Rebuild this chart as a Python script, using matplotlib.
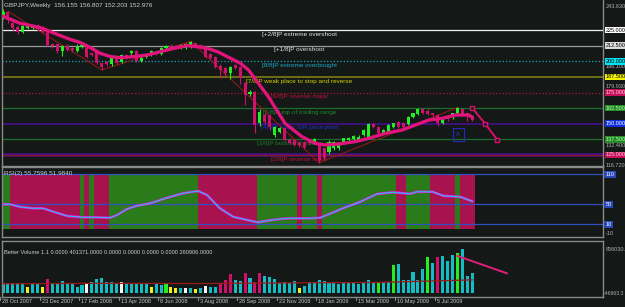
import numpy as np
import matplotlib.pyplot as plt
import matplotlib.transforms as mtransforms
from matplotlib.patches import Rectangle

plt.rcParams['font.family'] = ['Liberation Sans', 'DejaVu Sans']

# weekly GBPJPY candles, 28 Oct 2007 .. end Aug 2009
opens = [234.3, 239.7, 230.3, 227.7, 223.1, 226.3, 227.0, 228.5, 227.7, 225.0,
         213.8, 213.5, 208.2, 212.5, 210.9, 208.2, 211.4, 213.0, 206.3, 207.7,
         198.3, 199.1, 197.5, 202.3, 199.1, 205.0, 206.3, 208.2, 200.2, 203.7,
         205.0, 207.7, 205.5, 210.3, 212.5, 212.2, 210.9, 210.9, 211.7, 214.3,
         213.0, 210.3, 205.5, 203.7, 196.5, 194.3, 190.3, 197.0, 195.7, 182.3,
         173.5, 175.7, 150.3, 157.0, 157.0, 141.0, 143.7, 146.3, 137.0, 137.0,
         134.9, 135.7, 137.0, 135.7, 133.0, 130.3, 127.7, 130.3, 130.3, 134.3,
         137.0, 137.5, 137.0, 141.0, 139.7, 149.8, 147.7, 142.3, 143.7, 147.7,
         151.1, 150.9, 149.8, 155.1, 157.5, 161.5, 160.5, 158.3, 157.0, 150.3,
         156.2, 155.1, 158.3, 161.5, 158.3, 156.155]
closes = [239.7, 233.0, 226.3, 223.7, 228.5, 228.5, 228.2, 225.8, 223.7, 213.0,
          211.9, 208.2, 212.5, 209.0, 209.0, 211.1, 213.0, 203.7, 205.0, 198.3,
          195.7, 197.5, 202.9, 198.3, 205.0, 202.9, 208.2, 200.2, 202.9, 205.5,
          208.2, 205.5, 210.9, 212.5, 210.9, 210.3, 213.0, 213.5, 215.1, 211.7,
          210.3, 203.7, 202.3, 195.7, 193.0, 190.3, 195.7, 194.3, 186.3, 173.0,
          175.5, 149.0, 159.7, 151.7, 147.7, 147.7, 146.3, 137.0, 134.9, 133.0,
          133.0, 131.1, 134.9, 137.5, 121.0, 122.3, 135.7, 135.7, 133.0, 138.3,
          138.3, 140.2, 139.7, 145.0, 149.8, 147.7, 142.9, 145.0, 149.0, 150.3,
          147.7, 147.7, 155.1, 158.3, 161.5, 158.3, 157.8, 157.0, 150.3, 154.3,
          153.5, 158.3, 162.3, 157.0, 156.2, 152.976]
highs = [241.5, 240.5, 231.5, 229.0, 229.5, 229.5, 229.0, 229.5, 228.5, 225.5,
         214.5, 214.0, 213.0, 213.5, 211.5, 214.0, 214.5, 214.0, 207.0, 208.5,
         199.0, 200.0, 204.5, 203.0, 206.0, 206.0, 209.0, 209.0, 203.5, 206.0,
         209.0, 208.5, 211.5, 213.0, 213.5, 213.0, 213.5, 214.5, 216.0, 215.0,
         213.5, 211.0, 206.5, 204.0, 197.5, 195.5, 196.5, 198.0, 196.5, 183.5,
         177.0, 176.5, 162.0, 158.5, 158.0, 148.5, 147.5, 147.0, 138.5, 138.0,
         136.0, 136.5, 138.0, 139.0, 134.0, 131.0, 137.0, 136.5, 134.0, 139.0,
         139.5, 141.0, 141.0, 146.0, 150.5, 150.5, 148.5, 146.0, 150.0, 151.0,
         152.0, 151.5, 156.0, 159.0, 163.0, 162.5, 161.5, 159.0, 158.0, 155.0,
         157.0, 159.0, 163.5, 162.0, 159.0, 156.807]
lows = [233.5, 231.0, 224.5, 222.0, 222.5, 225.5, 226.0, 225.0, 222.5, 212.0,
        210.5, 207.0, 204.5, 208.0, 207.5, 207.5, 210.5, 203.0, 204.0, 197.5,
        193.0, 196.5, 196.5, 197.5, 198.5, 202.0, 205.0, 199.5, 199.5, 203.0,
        204.5, 205.0, 205.0, 209.5, 210.0, 209.5, 210.0, 210.0, 211.0, 211.0,
        209.5, 203.0, 201.0, 195.0, 186.5, 189.0, 186.0, 193.5, 182.0, 165.0,
        172.0, 143.0, 148.0, 150.0, 145.0, 139.5, 142.5, 136.0, 133.5, 132.0,
        131.5, 129.5, 133.5, 134.5, 118.8, 121.0, 126.0, 129.0, 129.0, 133.5,
        136.0, 136.5, 136.0, 140.0, 139.0, 146.5, 142.0, 141.5, 143.0, 147.0,
        147.0, 146.5, 149.0, 154.5, 157.0, 157.5, 157.0, 155.5, 148.0, 149.5,
        152.5, 154.0, 157.5, 156.5, 152.0, 152.203]

# moving average (read at a few points)
ma_idx = [0, 3.5, 7.6, 9.6, 11.6, 13.6, 15.7, 17.7, 19.7, 21.8, 23.8, 26.5, 29.2,
          31.9, 34.6, 37.3, 39.3, 41.4, 43.4, 46.1, 48.1, 49.7, 53.7, 57.1, 60.5,
          63.2, 65.2, 67.9, 71.3, 74, 77.4, 80.8, 83.5, 86.2, 88.9, 91.6, 94.3, 95]
ma_val = [236.0, 230.3, 226.9, 223.7, 220.5, 217.5, 214.9, 210.9, 206.3, 203.7,
          202.9, 203.7, 205.0, 207.7, 210.3, 212.5, 211.7, 210.3, 207.7, 202.3,
          198.3, 193.0, 171.7, 150.3, 139.7, 134.3, 133.0, 133.8, 135.7, 138.3,
          142.3, 145.0, 149.0, 153.0, 154.3, 157.0, 157.0, 155.1]

# zigzag swing line
zz_idx = [1, 20, 38, 64, 92]
zz_val = [240, 193, 216, 118.8, 163]

# projection
proj_idx = [94.9, 97.6, 100.1]
proj_val = [163, 150, 137]

# Murrey math levels
mm_levels = [225, 212.5, 200, 187.5, 175, 162.5, 150, 137.5, 125]
mm_labels = ['[+2/8]P extreme overshoot', '[+1/8]P overshoot', '[8/8]P extreme overbought',
             '[7/8]P weak place to stop and reverse', '[6/8]P reverse major',
             '[5/8]P top of trading range', '[4/8]P major S/R pivot point',
             '[3/8]P bottom of trading range', '[2/8]P reverse major']
mm_colors = ['#f0f0f0', '#9a9a9a', '#18a8c0', '#7c7c12', '#c0103c', '#1c6e2c', '#44108c',
             '#1c6e2c', '#8c1c1c']
mm_text_colors = ['#e8e8e8', '#e0e0e0', '#18a8c8', '#d0d000', '#c0103c', '#1e8a2e', '#2030d8',
                  '#1e7a2a', '#c0103c']
mm_styles = ['-', '-', ':', '-', ':', '-', '-', '-', '-']
mm_box = ['#ffffff', '#dcdcdc', '#00e4f4', '#f4f400', '#c8105a', '#2a8a2a', '#1030e0',
          '#2a8a2a', '#c8105a']
mm_box_text = ['black', 'black', 'black', 'black', '#ffd0e0', '#a0ffa0', 'white', '#a0ffa0', '#ffd0e0']
price_ticks = [243.63, 196.10, 179.93, 132.40, 116.72]

# RSI
rsi_idx = [0, 1.4, 3.4, 6.1, 8.1, 10.9, 13, 16.2, 19, 21.7, 23.1, 25.1, 27.1, 29.8,
           33.2, 36.4, 39.5, 41.3, 43.9, 46.6, 49.4, 51.6, 53.4, 56.1, 58.1, 62.1,
           64.2, 68.8, 72.3, 75.7, 78.9, 82.4, 83.8, 87, 89.1, 92.5, 95]
rsi_val = [50, 50, 45, 42, 42, 33, 26.6, 24, 24, 23, 28.6, 40.6, 47, 52, 63, 72, 76.6,
           68.6, 42, 25, 18.6, 14, 17, 20.6, 22, 22, 23, 42, 55, 70.6, 74, 71, 75, 75,
           67, 65, 56]
rsi_levels = [110, 50, 10]
zone_edges = [0, 2, 16, 17, 18, 19, 22, 40, 52, 60, 61, 64, 65, 80, 82, 87, 92, 93, 96]

# Better Volume
volume = [208000, 208000, 195000, 195000, 195000, 130000, 175000, 175000, 130000, 272000,
          195000, 208000, 247000, 208000, 195000, 130000, 161000, 195000, 228000, 272000,
          292000, 228000, 228000, 208000, 228000, 195000, 195000, 208000, 195000, 195000,
          130000, 181000, 161000, 181000, 117000, 97000, 97000, 97000, 97000, 78000,
          111000, 142000, 130000, 130000, 208000, 259000, 375000, 259000, 247000, 389000,
          292000, 228000, 389000, 337000, 325000, 272000, 195000, 228000, 208000, 239000,
          97000, 142000, 228000, 228000, 259000, 247000, 195000, 195000, 175000, 195000,
          195000, 195000, 175000, 228000, 259000, 208000, 195000, 228000, 228000, 551000,
          570000, 259000, 259000, 422000, 259000, 467000, 700000, 584000, 714000, 726000,
          636000, 745000, 792000, 856030, 337000, 401371]
vol_special = {5: 'y', 8: 'y', 9: 'r', 17: 'w', 24: 'w', 30: 'y', 33: 'g', 34: 'y', 35: 'y',
               37: 'w', 39: 'y', 41: 'w', 44: 'r', 45: 'r', 46: 'r', 49: 'r', 51: 'r', 52: 'r',
               60: 'y', 76: 'g', 79: 'g', 86: 'g', 88: 'r', 92: 'g'}
vol_avg_idx = [0, 20, 40, 60, 75, 85, 95]
vol_avg_val = [185000, 195000, 190000, 205000, 210000, 235000, 260906]
vt_idx = [92, 102]
vt_val = [726000, 389000]

date_idx = [0, 8, 16, 24, 32, 40, 48, 56, 64, 72, 80, 88]
date_labels = ['28 Oct 2007', '23 Dec 2007', '17 Feb 2008', '13 Apr 2008', '8 Jun 2008',
               '3 Aug 2008', '28 Sep 2008', '23 Nov 2008', '18 Jan 2009', '15 Mar 2009',
               '10 May 2009', '5 Jul 2009']

BG = '#141816'
GRAY = '#8a8a8a'
BULL = '#22ee22'
BEAR = '#d0106a'
W, H = 625, 307

def box(x0, y0, x1, y1):
    return [x0 / W, 1 - y1 / H, (x1 - x0) / W, (y1 - y0) / H]

fig = plt.figure(figsize=(6.25, 3.07), dpi=100, facecolor=BG)
ax_p = fig.add_axes(box(2, 0, 603, 166))
ax_r = fig.add_axes(box(2, 167, 603, 237))
ax_v = fig.add_axes(box(2, 241, 603, 297))

for ax in (ax_p, ax_r, ax_v):
    ax.set_facecolor(BG)
    ax.set_xlim(-0.2, 121.46)
    ax.set_xticks([])
    ax.set_yticks([])
    for s in ax.spines.values():
        s.set_color(GRAY)
        s.set_linewidth(1)
ax_p.spines['top'].set_visible(False)

fs = 4.6    # chart texts
fr = 4.0    # right-hand scale labels
fd = 4.0    # date labels
n = len(opens)
x = np.arange(n)

# ---------- price panel ----------
ax_p.set_ylim(116.2, 249)
for lvl, c, ls in zip(mm_levels, mm_colors, mm_styles):
    if lvl == 125:
        ax_p.axhline(lvl, color='#44108c', lw=2.6, zorder=1)
    ax_p.axhline(lvl, color=c, lw=1.2 if lvl in (187.5, 150) else 0.9, ls=ls, zorder=1)

for lbl, lvl, c in zip(mm_labels, mm_levels, mm_text_colors):
    ax_p.annotate(lbl, (60, lvl), xytext=(0, -1.2), textcoords='offset points',
                  ha='center', va='top', fontsize=fs, color=c, zorder=2)

ax_p.plot(zz_idx, zz_val, color='#8b1a1a', lw=0.8, zorder=2)

o = np.array(opens); c = np.array(closes)
up = c >= o
cols = np.where(up, BULL, BEAR)
ax_p.vlines(x, lows, highs, colors=cols, lw=0.8, zorder=3)
ax_p.bar(x, np.maximum(np.abs(c - o), 0.6), bottom=np.minimum(o, c), width=0.62,
         color=cols, edgecolor='none', zorder=4)

ax_p.plot(ma_idx, ma_val, color='#e0147a', lw=2.4, solid_capstyle='round', zorder=5)
ax_p.plot(proj_idx, proj_val, color='#d8106a', lw=1.4, marker='s', ms=3,
          mfc=BG, mec='#d8106a', mew=1, zorder=5)
ax_p.add_patch(Rectangle((91.1, 136.2), 2.2, 10.4, fill=False, ec='#2828c8', lw=0.8, zorder=5))
ax_p.text(92.2, 141.4, 'A', color='#3030e0', fontsize=4.5, ha='center', va='center', zorder=6)

ax_p.text(0.004, 0.964, 'GBPJPY,Weekly  156.155 156.807 152.203 152.976', transform=ax_p.transAxes,
          fontsize=fs, color='#d0d0d0', va='center', ha='left')

tr_p = mtransforms.blended_transform_factory(ax_p.transAxes, ax_p.transData)
for t in price_ticks:
    ax_p.text(1.004, t, '%.3f' % t, transform=tr_p, fontsize=fr, color='#b0b0b0',
              ha='left', va='center', clip_on=False)
for lvl, fc, tc in zip(mm_levels, mm_box, mm_box_text):
    ax_p.text(1.004, lvl, '%.3f' % lvl, transform=tr_p, fontsize=fr, color=tc, ha='left',
              va='center', clip_on=False,
              bbox=dict(boxstyle='square,pad=0.15', fc=fc, ec='none'))

# ---------- RSI panel ----------
ax_r.set_ylim(-15.4, 124.6)
for i in range(len(zone_edges) - 1):
    a, b = zone_edges[i], zone_edges[i + 1]
    ax_r.bar(a - 0.5, 110, width=b - a, bottom=0, align='edge',
             color='#2a7c1a' if i % 2 == 0 else '#a8124e', edgecolor='none', zorder=1)
for lvl in rsi_levels:
    ax_r.axhline(lvl, color='#3050c0', lw=0.9, zorder=2)
ax_r.plot(rsi_idx, rsi_val, color='#e020e0', lw=1.8, zorder=3)
ax_r.plot(rsi_idx, rsi_val, color='#20c8e8', lw=0.7, zorder=4)
ax_r.text(0.004, 0.91, 'RSI(2) 55.7596 51.9840', transform=ax_r.transAxes, fontsize=fs,
          color='#d0d0d0', va='center', ha='left', zorder=5)
tr_r = mtransforms.blended_transform_factory(ax_r.transAxes, ax_r.transData)
for lvl in rsi_levels:
    ax_r.text(1.004, lvl, str(lvl), transform=tr_r, fontsize=fr, color='white', ha='left',
              va='center', clip_on=False, bbox=dict(boxstyle='square,pad=0.2', fc='#2848b8', ec='none'))
ax_r.text(1.004, -8, '-10', transform=tr_r, fontsize=fr, color='#b0b0b0', ha='left',
          va='center', clip_on=False)

# ---------- volume panel ----------
ax_v.set_ylim(-72000, 1017500)
kind_color = {'c': '#14bcc4', 'y': '#f0f020', 'r': '#d0106a', 'w': '#f4f4f4', 'g': '#22ee22'}
vcols = [kind_color[vol_special.get(i, 'c')] for i in range(n)]
ax_v.bar(x, volume, width=0.62, color=vcols, edgecolor='none', zorder=2)
ax_v.plot(vol_avg_idx, vol_avg_val, color='#9a1a1a', lw=0.9, zorder=3)
ax_v.plot(vt_idx, vt_val, color='#e0207a', lw=1.4, zorder=4)
ax_v.text(0.004, 0.79, 'Better Volume 1.1 0.0000 401371.0000 0.0000 0.0000 0.0000 0.0000 260906.0000',
          transform=ax_v.transAxes, fontsize=4.1, color='#d0d0d0', va='center', ha='left')
tr_v = mtransforms.blended_transform_factory(ax_v.transAxes, ax_v.transData)
ax_v.text(1.004, 856030, '856030.', transform=tr_v, fontsize=fr, color='#b0b0b0',
          ha='left', va='center', clip_on=False)
ax_v.text(1.002, 0, '-46963.3', transform=tr_v, fontsize=3.7, color='#b0b0b0',
          ha='left', va='center', clip_on=False)

tr_d = mtransforms.blended_transform_factory(ax_v.transData, ax_v.transAxes)
for di, dl in zip(date_idx, date_labels):
    ax_v.plot([di - 0.6, di - 0.6], [0, -0.05], transform=tr_d, color=GRAY, lw=0.8, clip_on=False)
    ax_v.text(di - 0.2, -0.085, dl, transform=tr_d, fontsize=fd, color='#c8c8c8',
              ha='left', va='center', clip_on=False)

fig.savefig('out.png', dpi=100, facecolor=BG)
